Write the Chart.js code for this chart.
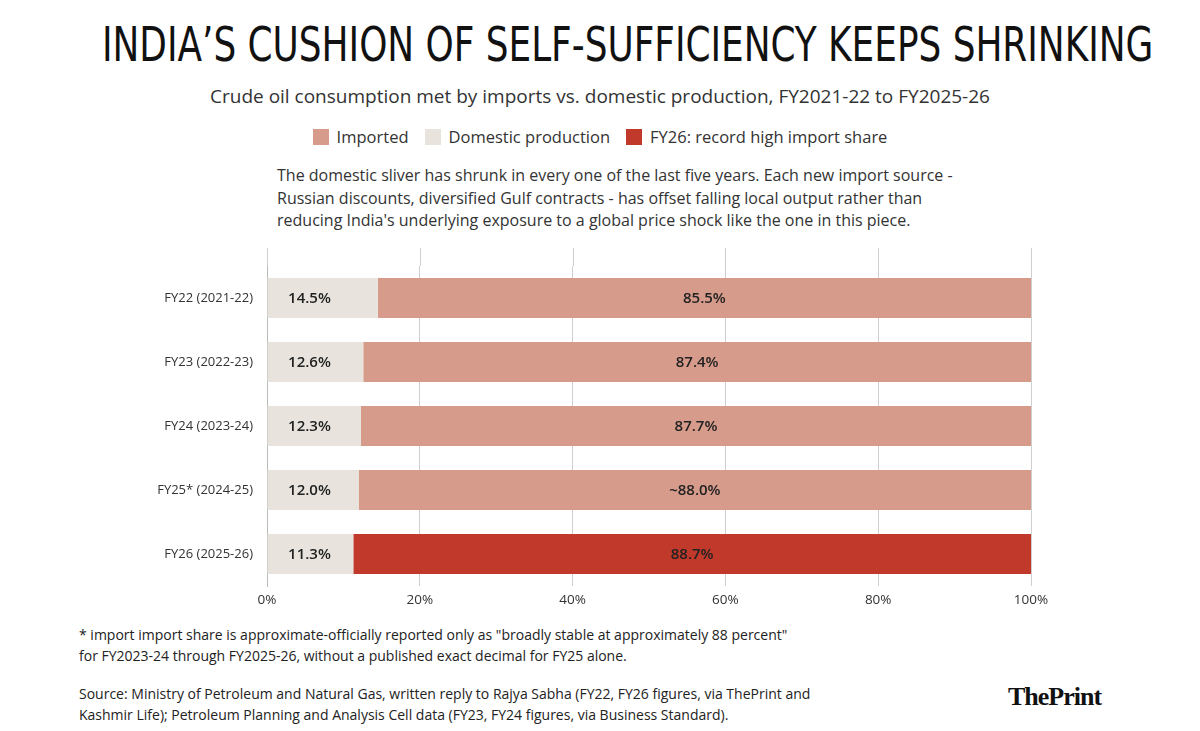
<!DOCTYPE html>
<html><head><meta charset="utf-8">
<script src="https://cdn.jsdelivr.net/npm/chart.js@4"></script>
<style>
body{margin:0;width:1200px;height:731px;background:#fff;position:relative;font-family:"Open Sans",sans-serif;color:#222;overflow:hidden}
.a{position:absolute;white-space:nowrap}
#title{left:0;width:1200px;top:16px;text-align:center;font-family:"DejaVu Sans Condensed","Liberation Sans Narrow",sans-serif;font-size:48px;font-weight:200;color:#111;transform:scaleX(0.83);transform-origin:center;letter-spacing:0px}
#sub{left:0;width:1200px;top:83px;text-align:center;font-size:19px;color:#333}
#legend{left:0;width:1200px;top:125px;text-align:center;font-size:16.5px;color:#333}
#legend span.sw{display:inline-block;width:16px;height:16px;vertical-align:-2px;margin-right:8px}
#legend span.it{margin:0 8px}
#note{left:277px;top:164px;font-size:16px;line-height:22.5px;color:#333}
#fn{left:79px;top:624px;font-size:14px;line-height:21px;color:#222}
#src{left:79px;top:683px;font-size:14px;line-height:21px;color:#222}
#logo{left:1008px;top:682px;font-family:"Liberation Serif","DejaVu Serif",serif;font-weight:bold;font-size:26px;letter-spacing:-1px;color:#111}
#wrap{left:0;top:248px;width:1200px;height:367px}
</style></head><body>
<div id="title" class="a">INDIA’S CUSHION OF SELF-SUFFICIENCY KEEPS SHRINKING</div>
<div id="sub" class="a">Crude oil consumption met by imports vs. domestic production, FY2021-22 to FY2025-26</div>
<div id="legend" class="a"><span class="it"><span class="sw" style="background:#D79B8B"></span>Imported</span><span class="it"><span class="sw" style="background:#E8E4DD"></span>Domestic production</span><span class="it"><span class="sw" style="background:#C0392B"></span>FY26: record high import share</span></div>
<div id="note" class="a">The domestic sliver has shrunk in every one of the last five years. Each new import source -<br>Russian discounts, diversified Gulf contracts - has offset falling local output rather than<br>reducing India's underlying exposure to a global price shock like the one in this piece.</div>
<div id="wrap" class="a"><canvas id="c"></canvas></div>
<div id="fn" class="a">* import import share is approximate-officially reported only as "broadly stable at approximately 88 percent"<br>for FY2023-24 through FY2025-26, without a published exact decimal for FY25 alone.</div>
<div id="src" class="a">Source: Ministry of Petroleum and Natural Gas, written reply to Rajya Sabha (FY22, FY26 figures, via ThePrint and<br>Kashmir Life); Petroleum Planning and Analysis Cell data (FY23, FY24 figures, via Business Standard).</div>
<div id="logo" class="a">ThePrint</div>
<script>
const categories=["FY22 (2021-22)","FY23 (2022-23)","FY24 (2023-24)","FY25* (2024-25)","FY26 (2025-26)"];
const domestic=[14.5,12.6,12.3,12.0,11.3];
const imported=[85.5,87.4,87.7,88.0,88.7];
const domesticLabels=["14.5%","12.6%","12.3%","12.0%","11.3%"];
const importedLabels=["85.5%","87.4%","87.7%","~88.0%","88.7%"];
const importColors=["#D79B8B","#D79B8B","#D79B8B","#D79B8B","#C0392B"];

const labelPlugin={id:'lbl',
 beforeDatasetsDraw(ch){const {ctx,chartArea:a,scales:{x}}=ch;ctx.save();ctx.strokeStyle='#cfcfcf';ctx.lineWidth=1;
  [0,20,40,60,80,100].forEach(v=>{const px=Math.round(x.getPixelForValue(v))+0.5;ctx.beginPath();ctx.moveTo(px,a.top-18);ctx.lineTo(px,a.top);ctx.stroke();});ctx.restore();},
 afterDatasetsDraw(ch){const ctx=ch.ctx;ctx.save();ctx.font='600 15px "Open Sans", sans-serif';ctx.fillStyle='#222';ctx.textBaseline='middle';ctx.textAlign='center';
  const m0=ch.getDatasetMeta(0),m1=ch.getDatasetMeta(1);
  m0.data.forEach((b,i)=>{ctx.fillText(domesticLabels[i],b.base+42,b.y+1);});
  m1.data.forEach((b,i)=>{ctx.fillText(importedLabels[i],(b.base+b.x)/2,b.y+1);});
  ctx.restore();}};

new Chart(document.getElementById('c'),{type:'bar',
 data:{labels:categories,datasets:[
  {label:'Domestic production',data:domestic,backgroundColor:'#E8E4DD',barPercentage:0.625,categoryPercentage:1},
  {label:'Imported',data:imported,backgroundColor:importColors,barPercentage:0.625,categoryPercentage:1}]},
 options:{indexAxis:'y',responsive:true,maintainAspectRatio:false,animation:false,
  layout:{padding:{top:18,right:169,left:0,bottom:0}},
  plugins:{legend:{display:false},tooltip:{enabled:false}},
  scales:{
   x:{stacked:true,min:0,max:100,ticks:{stepSize:20,callback:v=>v+'%',color:'#333',font:{size:13.5,family:'Open Sans'},padding:6},
      grid:{color:'#cfcfcf',drawTicks:false},border:{display:false},afterFit(s){s.height=29;}},
   y:{stacked:true,ticks:{color:'#333',font:{size:13,family:'Open Sans'},padding:6},grid:{display:false},border:{color:'#bbb'},
      afterFit(s){s.width=267;}}}},
 plugins:[labelPlugin]});
</script>
</body></html>
